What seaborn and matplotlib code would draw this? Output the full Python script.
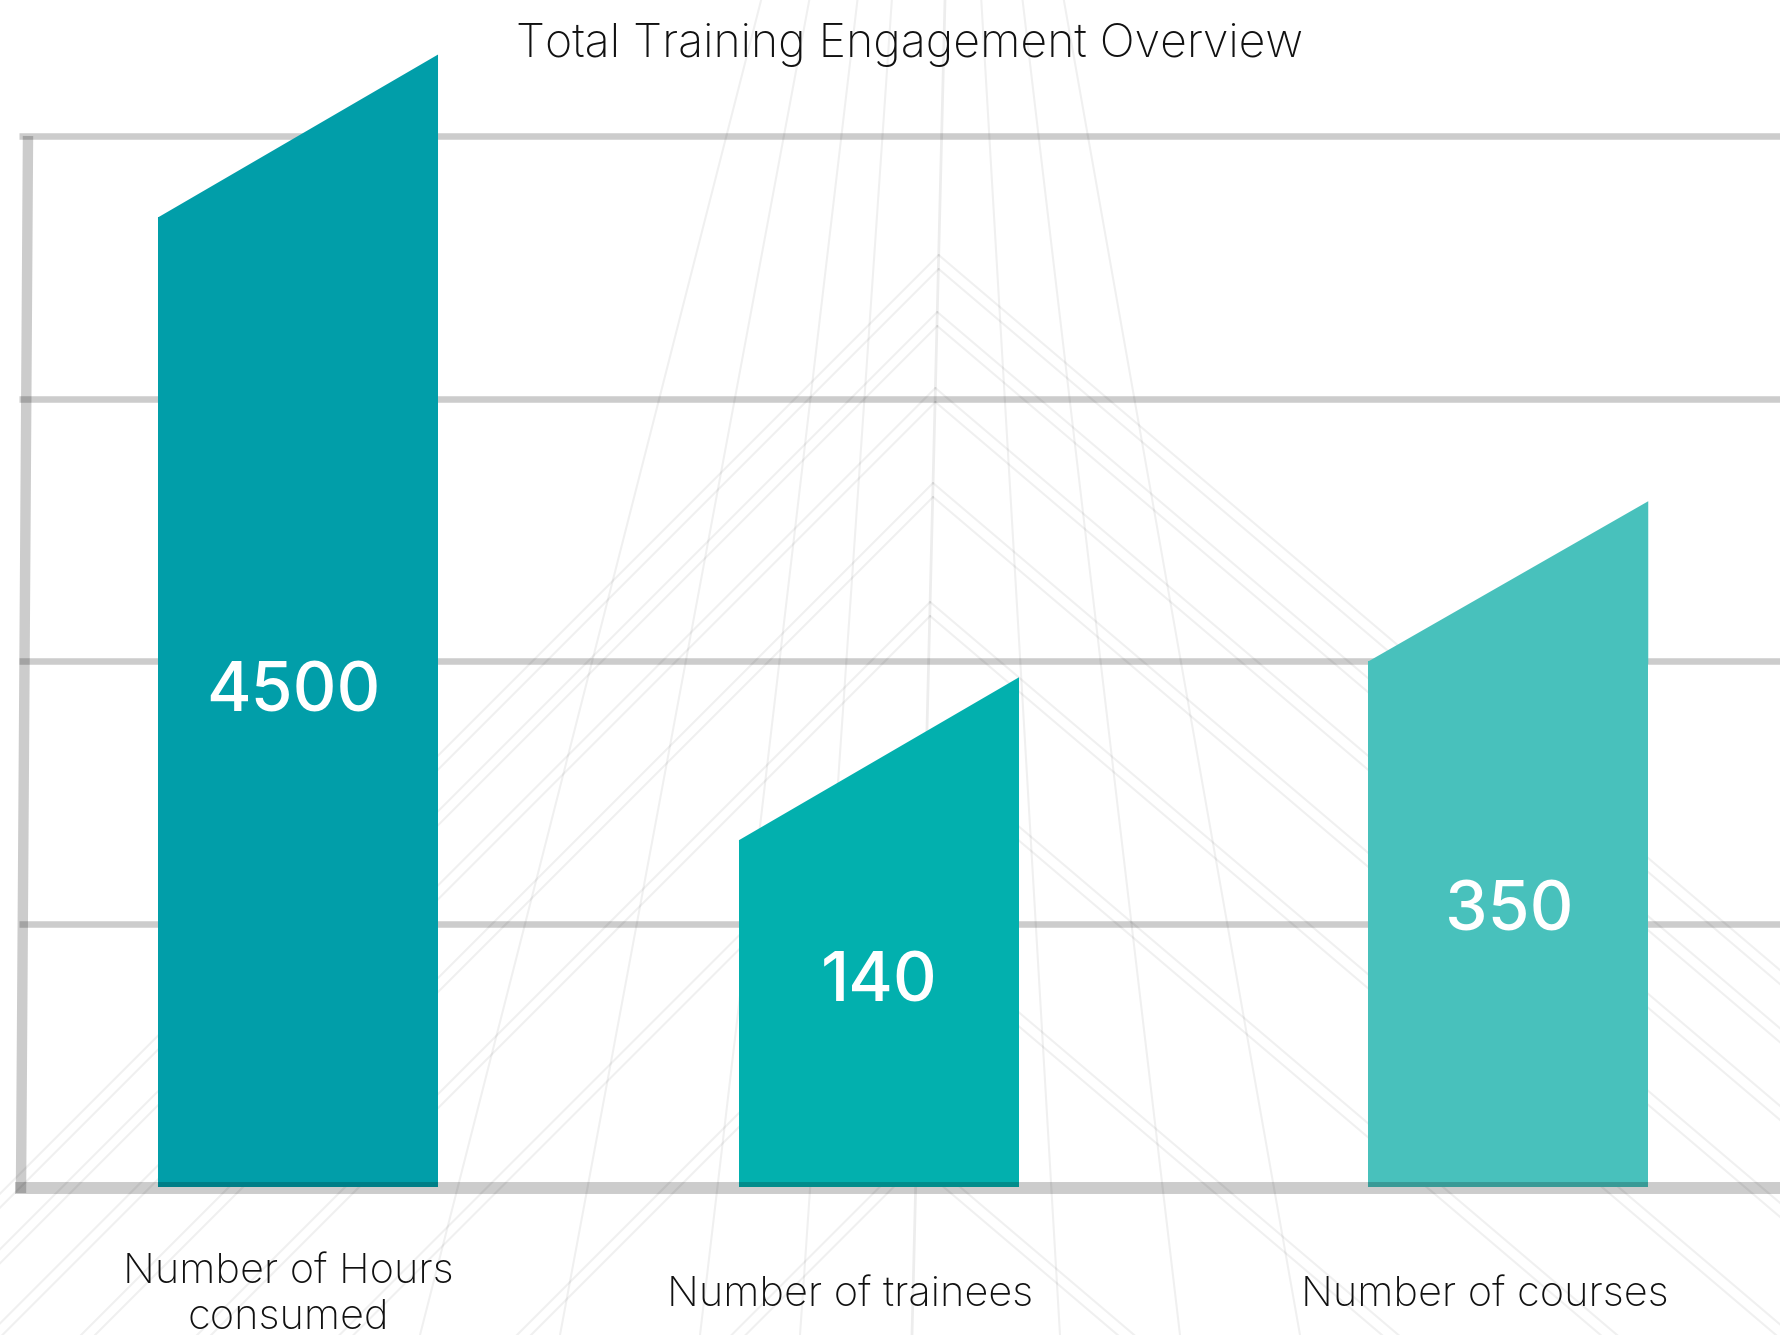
import numpy as np
import pandas as pd
import seaborn as sns
import matplotlib.pyplot as plt
from matplotlib.patches import Polygon

# --- data ---
categories = ["Number of Hours\nconsumed", "Number of trainees", "Number of courses"]
values = [4500, 140, 350]
# drawn bar heights in grid steps: left shoulder and right peak of the slanted top
shoulder_heights = [3.69, 1.32, 2.00]
peak_heights = [4.31, 1.94, 2.61]
grid_levels = [1, 2, 3, 4]

# --- styling / layout ---
bar_colors = ["#019ea9", "#02b0ae", "#48c1bc"]
slot_positions = [0.0, 1.0, 2.083]
bar_width = 0.482
label_levels = [1.903, 0.799, 1.069]       # centre of value text, grid steps
label_offsets = [-0.008, 0.0, 0.002]       # value text shift from bar centre
cat_offsets = [-0.017, -0.050, -0.041]     # category text shift from bar centre
title = "Total Training Engagement Overview"

sns.set_style("white")
plt.rcParams["font.family"] = ["Inter", "DejaVu Sans"]

W, H = 1781, 1335
fig = plt.figure(figsize=(W / 100, H / 100), dpi=100)
fig.patch.set_facecolor("white")

# faint architectural backdrop, drawn in pixel space
bg = fig.add_axes([0, 0, 1, 1], zorder=0)
bg.set_xlim(0, W)
bg.set_ylim(H, 0)
bg.axis("off")
ridge_top, ridge_bot = 945, 912
def ridge_x(py):
    return ridge_top + (ridge_bot - ridge_top) * py / H
bg.plot([ridge_x(0), ridge_x(H)], [0, H], color="black", alpha=0.07, lw=2)
for py in [255, 312, 388, 483, 602, 748, 930, 1150]:
    rx = ridge_x(py)
    for d in (0, 14):
        bg.plot([rx, rx - 1400], [py + d, py + d + 1400], color="black", alpha=0.06, lw=1.5)
        bg.plot([rx, rx + 1400], [py + d, py + d + 1190], color="black", alpha=0.06, lw=1.5)
vx, vy = 940, -700
for bx in [420, 560, 700, 800, 1060, 1180, 1300]:
    bg.plot([vx, bx], [vy, H], color="black", alpha=0.06, lw=1.5)

# main chart axes: x in slot units, y in grid steps
ax = fig.add_axes([0, 0, 1, 1], zorder=1)
ax.set_facecolor("none")

df = pd.DataFrame({"pos": slot_positions, "height": shoulder_heights,
                   "category": categories})
sns.barplot(data=df, x="pos", y="height", hue="category", palette=bar_colors,
            native_scale=True, width=bar_width, saturation=1, legend=False,
            linewidth=0, zorder=2, ax=ax)

# slanted tops
bars = sorted(ax.patches, key=lambda p: p.get_x())
for p, peak in zip(bars, peak_heights):
    x0, w, h = p.get_x(), p.get_width(), p.get_height()
    tri = Polygon([(x0, h - 0.01), (x0 + w, h - 0.01), (x0 + w, peak), (x0, h)],
                  closed=True, facecolor=p.get_facecolor(), linewidth=0, zorder=2)
    ax.add_patch(tri)

# grid frame
x_left, x_right = -0.480, 2.7
for g in grid_levels:
    ax.plot([x_left, x_right], [g, g], color="black", alpha=0.2, lw=4.7,
            solid_capstyle="butt", zorder=1)
ax.plot([-0.487, x_right], [-0.004, -0.004], color="black", alpha=0.2, lw=8.6,
        solid_capstyle="butt", zorder=3)
ax.plot([-0.4647, -0.4768], [4.0, -0.023], color="black", alpha=0.2, lw=7.5,
        solid_capstyle="butt", zorder=3)

# value labels inside bars
for pos, off, v, lvl in zip(slot_positions, label_offsets, values, label_levels):
    ax.annotate(f"{v}", (pos + off, lvl), xytext=(0, -17.5),
                textcoords="offset points", ha="center", va="baseline",
                color="white", fontsize=49, fontweight="medium", zorder=4)

# category labels below the frame
for pos, off, cat in zip(slot_positions, cat_offsets, categories):
    ax.text(pos + off, -0.412, cat, ha="center", va="center", fontsize=29.9,
            fontweight="light", color="#111111", linespacing=1.28, zorder=4)

ax.set_xlim(-0.5129, 2.5525)
ax.set_ylim(-0.5633, 4.5176)
ax.axis("off")

fig.text(910 / W, 1 - 45 / H, title, ha="center", va="center", fontsize=33.4,
         fontweight="light", color="#111111")

fig.savefig("out.png", dpi=100, facecolor="white")
